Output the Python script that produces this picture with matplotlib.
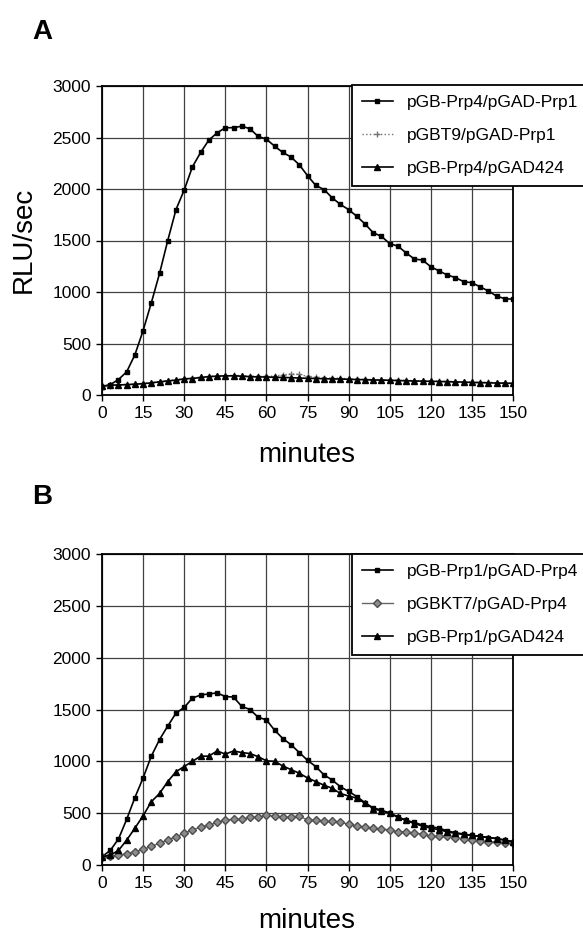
import matplotlib
matplotlib.use("Agg")
import matplotlib.pyplot as plt

plt.rcParams["font.family"] = ["Liberation Sans", "DejaVu Sans"]

# sampling times (minutes)
minutes = [0, 3, 6, 9, 12, 15, 18, 21, 24, 27, 30, 33, 36, 39, 42, 45, 48,
           51, 54, 57, 60, 63, 66, 69, 72, 75, 78, 81, 84, 87, 90, 93, 96,
           99, 102, 105, 108, 111, 114, 117, 120, 123, 126, 129, 132, 135,
           138, 141, 144, 147, 150]

# panel A
labels_a = ["pGB-Prp4/pGAD-Prp1", "pGBT9/pGAD-Prp1", "pGB-Prp4/pGAD424"]
prp4_prp1 = [80, 100, 150, 225, 390, 625, 895, 1180, 1500, 1800,
             1990, 2215, 2355, 2475, 2545, 2595, 2595, 2610, 2585, 2510,
             2485, 2415, 2355, 2310, 2235, 2130, 2035, 1995, 1915, 1850,
             1800, 1735, 1660, 1575, 1540, 1470, 1445, 1380, 1320, 1310,
             1245, 1205, 1165, 1140, 1100, 1090, 1050, 1010, 960, 935, 930]
gbt9_prp1 = [85, 92, 100, 104, 108, 112, 120, 130, 140, 148,
             158, 165, 172, 180, 185, 188, 190, 188, 185, 182,
             180, 185, 195, 205, 200, 180, 172, 168, 165, 162,
             158, 155, 152, 150, 148, 146, 144, 142, 140, 138,
             136, 134, 132, 130, 128, 126, 124, 122, 120, 118, 116]
prp4_gad424 = [88, 95, 98, 100, 105, 110, 118, 128, 137, 144,
               157, 160, 170, 178, 183, 186, 186, 183, 178, 175,
               175, 172, 170, 168, 165, 162, 160, 158, 156, 155,
               153, 150, 148, 146, 145, 143, 140, 138, 136, 135,
               133, 131, 129, 127, 125, 122, 120, 118, 116, 115, 113]

# panel B
labels_b = ["pGB-Prp1/pGAD-Prp4", "pGBKT7/pGAD-Prp4", "pGB-Prp1/pGAD424"]
prp1_prp4 = [80, 140, 250, 440, 650, 840, 1050, 1210, 1340, 1465,
             1520, 1610, 1640, 1650, 1660, 1625, 1620, 1530, 1500, 1425,
             1400, 1300, 1220, 1160, 1085, 1010, 950, 870, 820, 755,
             710, 660, 600, 550, 530, 500, 465, 430, 410, 385,
             370, 355, 330, 310, 300, 285, 275, 265, 255, 240, 225]
gbkt7_prp4 = [80, 85, 95, 110, 130, 150, 180, 210, 245, 270,
              310, 335, 370, 385, 410, 435, 440, 440, 460, 460,
              480, 470, 460, 460, 470, 435, 430, 420, 420, 410,
              395, 375, 365, 355, 345, 340, 320, 320, 305, 300,
              275, 275, 275, 265, 255, 245, 235, 225, 225, 215, 210]
prp1_gad424 = [80, 95, 140, 240, 355, 475, 610, 690, 805, 900,
               950, 1000, 1050, 1050, 1100, 1070, 1100, 1085, 1075, 1045,
               1005, 1000, 955, 920, 885, 840, 805, 770, 740, 690,
               665, 645, 595, 545, 520, 500, 460, 430, 400, 375,
               355, 340, 320, 305, 295, 285, 275, 265, 255, 240, 225]

x_ticks = [0, 15, 30, 45, 60, 75, 90, 105, 120, 135, 150]
y_ticks = [0, 500, 1000, 1500, 2000, 2500, 3000]

W, H = 583, 935


def style_axes(ax):
    ax.set_xlim(0, 150)
    ax.set_ylim(0, 3000)
    ax.set_xticks(x_ticks)
    ax.set_yticks(y_ticks)
    ax.grid(True, color="0.25", linewidth=0.9)
    ax.set_axisbelow(True)
    ax.tick_params(direction="out", length=4, width=1, labelsize=12.5, pad=4)
    for sp in ax.spines.values():
        sp.set_linewidth(1.3)


def add_legend(ax, x_px, y_px):
    leg = ax.legend(loc="upper left", bbox_to_anchor=(x_px / W, 1 - y_px / H),
                    bbox_transform=fig.transFigure, fontsize=12.5,
                    frameon=True, fancybox=False, borderaxespad=0,
                    borderpad=0.55, labelspacing=1.05, handlelength=1.8,
                    handletextpad=0.8)
    leg.get_frame().set_edgecolor("black")
    leg.get_frame().set_linewidth(1.3)
    leg.get_frame().set_alpha(None)
    leg.get_frame().set_facecolor("white")
    return leg


fig = plt.figure(figsize=(W / 100, H / 100), dpi=100)

ax_a = fig.add_axes([102 / W, 1 - 395 / H, 411 / W, 309 / H])
ax_a.plot(minutes, prp4_prp1, color="black", lw=1.2, marker="s", ms=3.5,
          label=labels_a[0])
ax_a.plot(minutes, gbt9_prp1, color="0.45", lw=1, ls=":", marker="+", ms=4.5,
          label=labels_a[1])
ax_a.plot(minutes, prp4_gad424, color="black", lw=1.2, marker="^", ms=4.5,
          label=labels_a[2])
style_axes(ax_a)
add_legend(ax_a, 352, 85)

ax_b = fig.add_axes([102 / W, 1 - 865 / H, 411 / W, 311 / H])
ax_b.plot(minutes, prp1_prp4, color="black", lw=1.2, marker="s", ms=3.5,
          label=labels_b[0])
ax_b.plot(minutes, gbkt7_prp4, color="0.4", lw=1, marker="D", ms=3.8,
          markerfacecolor="0.55", markeredgecolor="0.3", label=labels_b[1])
ax_b.plot(minutes, prp1_gad424, color="black", lw=1.2, marker="^", ms=4.5,
          label=labels_b[2])
style_axes(ax_b)
add_legend(ax_b, 352, 554)

# panel letters and axis titles
fig.text(42 / W, 1 - 32 / H, "A", fontsize=20, fontweight="bold",
         ha="center", va="center")
fig.text(42 / W, 1 - 497 / H, "B", fontsize=20, fontweight="bold",
         ha="center", va="center")
fig.text(24 / W, 1 - 240 / H, "RLU/sec", fontsize=20, rotation=90,
         ha="center", va="center")
fig.text(307 / W, 1 - 455 / H, "minutes", fontsize=20,
         ha="center", va="center")
fig.text(307 / W, 1 - 921 / H, "minutes", fontsize=20,
         ha="center", va="center")

fig.savefig("out.png", dpi=100)
